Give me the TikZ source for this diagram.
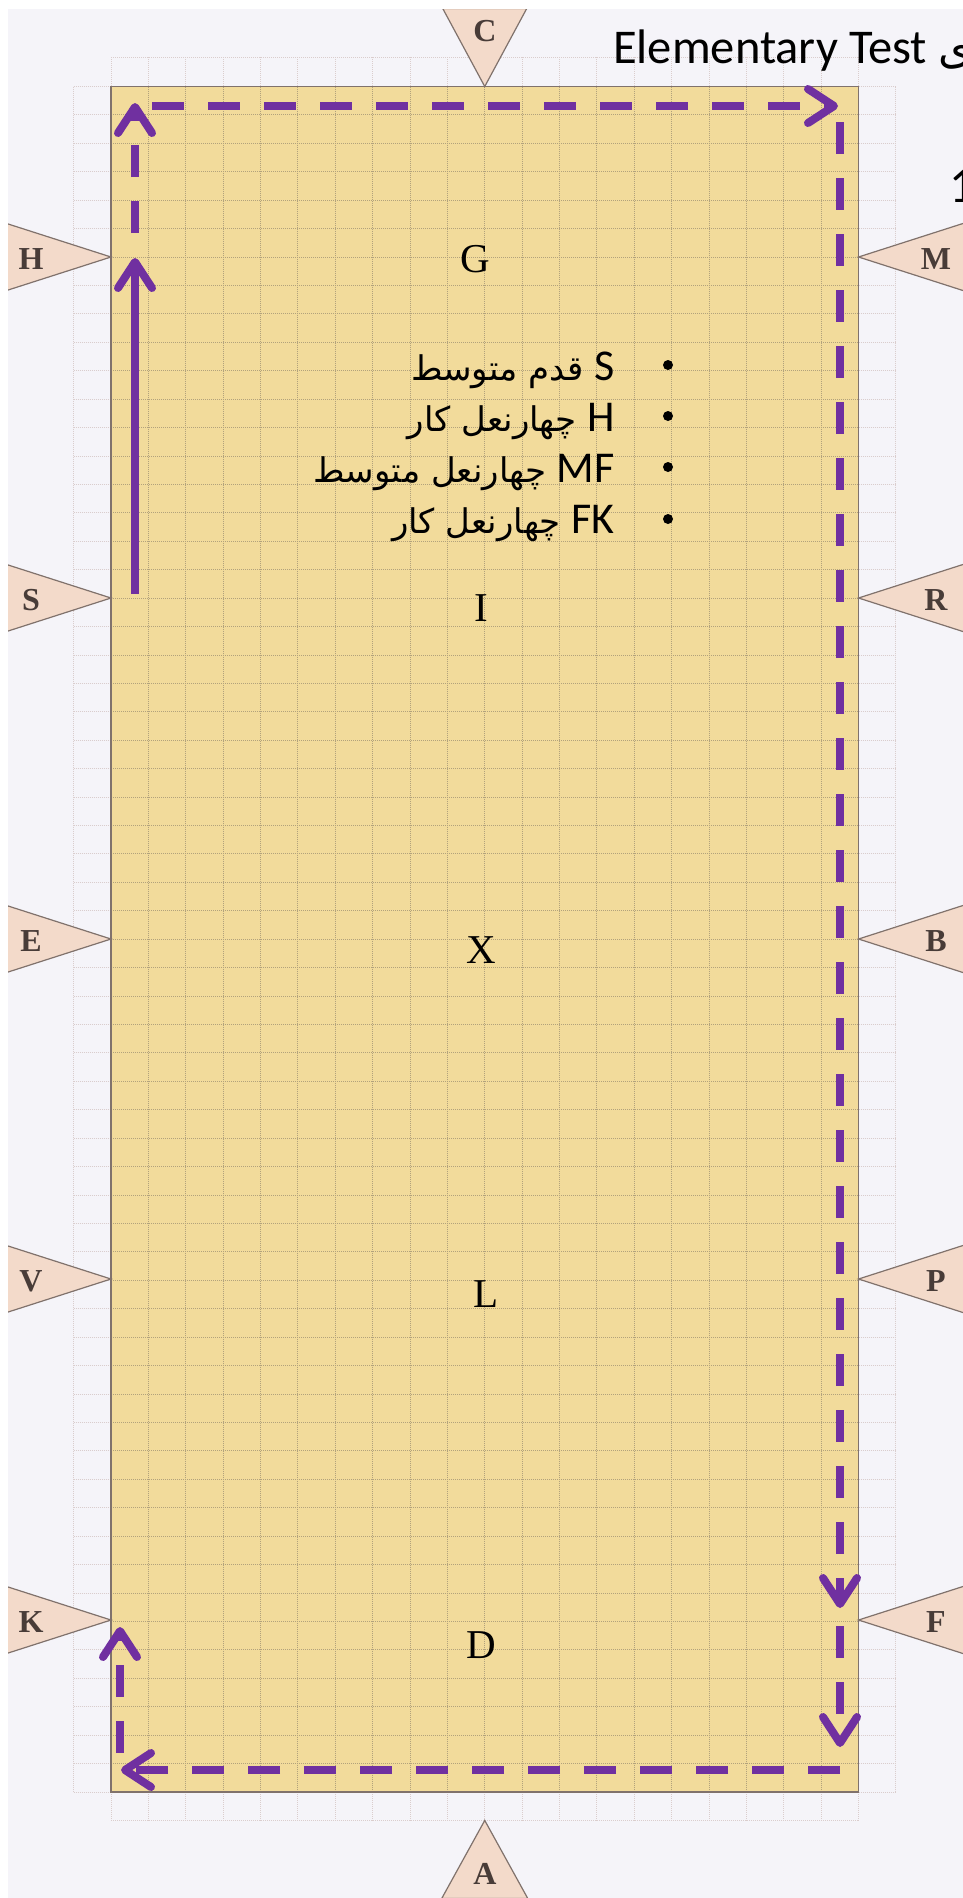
\documentclass[tikz,border=0pt]{standalone}
\usepackage{fontspec}
\usepackage{xcolor}
\usepackage{tikz}
\usetikzlibrary{arrows.meta, positioning}
\setmainfont{Liberation Serif}
\newfontfamily\latinfont{Carlito}
\newfontfamily\arabicfont[Script=Arabic]{DejaVu Sans}
\TeXXeTstate=1
\newcommand{\latintxt}[1]{{\latinfont\fontsize{44}{52}\selectfont #1}}
\definecolor{corFundo}{RGB}{245, 244, 249}
\definecolor{corArena}{RGB}{242, 219, 155}
\definecolor{corGrade}{RGB}{178, 162, 124}
\definecolor{corGradeFora}{RGB}{218, 205, 205}
\definecolor{corMarco}{RGB}{243, 218, 202}
\definecolor{corBorda}{RGB}{128, 114, 108}
\definecolor{corLetra}{RGB}{72, 60, 56}
\definecolor{corRota}{RGB}{112, 48, 160}

\begin{document}
\begin{tikzpicture}[x=1pt, y=-1pt,
    gradein/.style={draw=corGrade, line width=1pt, densely dotted},
    gradeout/.style={draw=corGradeFora, line width=1pt, densely dotted},
    marco/.style={fill=corMarco, draw=corBorda, line width=1.2pt},
    letramarco/.style={inner sep=0pt, text=corLetra, font=\bfseries\fontsize{32}{38}\selectfont},
    letrapista/.style={inner sep=0pt, font=\fontsize{41}{48}\selectfont},
    rota/.style={draw=corRota, line width=8pt, -{Straight Barb[length=26pt, width=34pt, round]}},
    rotatrac/.style={rota, dash pattern=on 32pt off 24pt},
    item/.style={anchor=base east, inner sep=0pt, font=\arabicfont\fontsize{34}{42}\selectfont},
    ponto/.style={circle, fill=black, inner sep=0pt, minimum size=10pt}
]
\useasboundingbox (0,0) rectangle (963,1898);
\fill[white] (0,0) rectangle (963,1898);
\begin{scope}
\clip (8,9) rectangle (963,1898);
\fill[corFundo] (8,9) rectangle (963,1898);

% grade de fora
\foreach \i in {0,...,20} {
  \draw[gradeout] ({111+\i*37.375},57) -- ({111+\i*37.375},86.5);
  \draw[gradeout] ({111+\i*37.375},1792) -- ({111+\i*37.375},1820.4);
}
\draw[gradeout] (111,57) -- (858.5,57);
\draw[gradeout] (111,1820.4) -- (858.5,1820.4);
\foreach \j in {0,...,60} {
  \draw[gradeout] (73.6,{86.5+\j*28.425}) -- (111,{86.5+\j*28.425});
  \draw[gradeout] (858.5,{86.5+\j*28.425}) -- (895.9,{86.5+\j*28.425});
}
\draw[gradeout] (73.6,86.5) -- (73.6,1792);
\draw[gradeout] (895.9,86.5) -- (895.9,1792);

% pista
\fill[corArena] (111,86.5) rectangle (858.5,1792);
\foreach \i in {1,...,19}
  \draw[gradein] ({111+\i*37.375},86.5) -- ({111+\i*37.375},1792);
\foreach \j in {1,...,59}
  \draw[gradein] (111,{86.5+\j*28.425}) -- (858.5,{86.5+\j*28.425});
\draw[corBorda, line width=1.4pt] (111,86.5) rectangle (858.5,1792);

% letras
\draw[marco] (484.75,86.5) -- (442.75,8.5) -- (526.75,8.5) -- cycle;
\node[letramarco] (mC) at (485,31) {C};
\draw[marco] (484.75,1820.4) -- (441.75,1898.4) -- (527.75,1898.4) -- cycle;
\node[letramarco] (mA) at (485,1874) {A};
\foreach \nome/\y in {H/257, S/598, E/939, V/1279, K/1620} {
  \draw[marco] (111,\y) -- (-9,{\y-38.5}) -- (-9,{\y+38.5}) -- cycle;
  \node[letramarco] (m\nome) at (31,{\y+2}) {\nome};
}
\foreach \nome/\y in {M/257, R/598, B/939, P/1279, F/1620} {
  \draw[marco] (858.5,\y) -- (978.5,{\y-38.5}) -- (978.5,{\y+38.5}) -- cycle;
  \node[letramarco] (m\nome) at (936,{\y+2}) {\nome};
}
\foreach \nome/\x/\y in {G/475/259, I/481/608, X/481/950, L/486/1294, D/481/1645}
  \node[letrapista] (p\nome) at (\x,\y) {\nome};

% texto
\node[anchor=base west, inner sep=0pt, font=\latinfont\fontsize{48.5}{56}\selectfont] (titulo) at (613,63) {Elementary Test {\arabicfont\fontsize{44}{52}\selectfont ی}};
\node[anchor=base west, inner sep=0pt, font=\latinfont\fontsize{50}{60}\selectfont] (num) at (949,202) {1};

\node[item] (l1) at (615,380) {\beginR\latintxt{S} قدم متوسط\endR};
\node[item] (l2) at (615,431) {\beginR\latintxt{H} چهارنعل کار\endR};
\node[item] (l3) at (615,482) {\beginR\beginL\latintxt{MF}\endL{} چهارنعل متوسط\endR};
\node[item] (l4) at (615,533) {\beginR\beginL\latintxt{FK}\endL{} چهارنعل کار\endR};
\foreach \k/\y in {1/365, 2/416, 3/467, 4/519}
  \node[ponto] (dot\k) at (668,\y) {};

% rota
\coordinate (s0) at (135,594);
\coordinate (s1) at (135,258);
\coordinate (s2) at (135,233);
\coordinate (s3) at (135,103);
\coordinate (t0) at (152,106);
\coordinate (t1) at (838,106);
\coordinate (r0) at (840,122);
\coordinate (r1) at (840,1608);
\coordinate (r2) at (840,1626);
\coordinate (r3) at (840,1747);
\coordinate (b0) at (840,1770);
\coordinate (b1) at (121,1770);
\coordinate (k0) at (120,1753);
\coordinate (k1) at (120,1627);
\draw[rota] (s0) -- (s1);
\draw[rotatrac] (s2) -- (s3);
\draw[rotatrac] (t0) -- (t1);
\draw[rotatrac] (r0) -- (r1);
\draw[rotatrac] (r2) -- (r3);
\draw[rotatrac] (b0) -- (b1);
\draw[rotatrac] (k0) -- (k1);
\end{scope}
\end{tikzpicture}
\end{document}
